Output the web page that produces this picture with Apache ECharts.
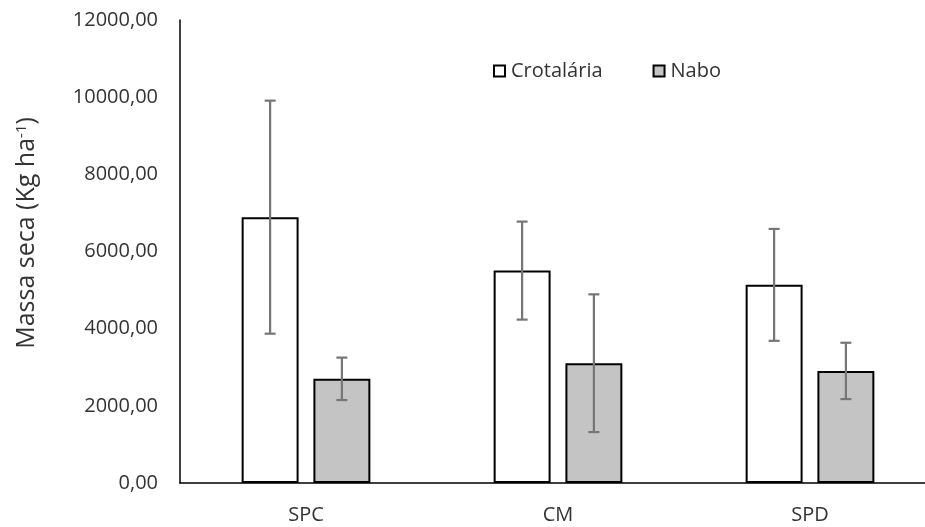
<!DOCTYPE html>
<html>
<head>
<meta charset="utf-8">
<script src="https://cdn.jsdelivr.net/npm/echarts@6/dist/echarts.min.js"></script>
<style>
  html, body { margin: 0; padding: 0; background: #fff; }
  #chart { width: 925px; height: 527px; }
</style>
</head>
<body>
<div id="chart"></div>
<script>
const categories = ['SPC', 'CM', 'SPD'];
const seriesNames = ['Crotalária', 'Nabo'];
const crotalaria = [6890, 5505, 5135];
const crotalariaErr = [3020, 1270, 1450];
const nabo = [2700, 3105, 2905];
const naboErr = [550, 1785, 730];
const yTicks = { min: 0, max: 12000, interval: 2000 };

const FONT = '"Open Sans", sans-serif';
const TEXT_COLOR = '#333333';
const BAR_W = 0.226;   // fraction of category band
const BAR_GAP = 0.26;  // fraction of bar width
const OFF = BAR_W * (1 + BAR_GAP) / 2;

function errSeries(vals, errs, sign) {
  return {
    type: 'custom',
    z: 5,
    silent: true,
    data: vals.map((v, i) => [i, v, errs[i]]),
    renderItem: function (params, api) {
      const x = api.value(0), v = api.value(1), e = api.value(2);
      const top = api.coord([x, v + e]);
      const bot = api.coord([x, v - e]);
      const band = api.size([1, 0])[0];
      const cx = top[0] + sign * band * OFF;
      const cap = 5.5;
      const st = { stroke: '#767676', lineWidth: 2.2 };
      return {
        type: 'group',
        children: [
          { type: 'line', shape: { x1: cx, y1: top[1], x2: cx, y2: bot[1] }, style: st },
          { type: 'line', shape: { x1: cx - cap, y1: top[1], x2: cx + cap, y2: top[1] }, style: st },
          { type: 'line', shape: { x1: cx - cap, y1: bot[1], x2: cx + cap, y2: bot[1] }, style: st }
        ]
      };
    }
  };
}

const chart = echarts.init(document.getElementById('chart'), null, { renderer: 'canvas' });
chart.setOption({
  animation: false,
  backgroundColor: '#ffffff',
  textStyle: { fontFamily: FONT },
  grid: { left: 180, width: 756, top: 20, bottom: 44, containLabel: false, outerBoundsMode: 'none' },
  legend: {
    data: seriesNames,
    left: 493,
    top: 61,
    padding: 0,
    itemWidth: 11,
    itemHeight: 11,
    itemGap: 50,
    icon: 'rect',
    textStyle: { fontFamily: FONT, fontSize: 20, color: TEXT_COLOR, padding: [0, 0, 0, 1] }
  },
  xAxis: {
    type: 'category',
    data: categories,
    axisLine: { lineStyle: { color: '#000', width: 1.5 } },
    axisTick: { show: false },
    axisLabel: { fontFamily: FONT, fontSize: 20, color: TEXT_COLOR, margin: 22 },
    splitLine: { show: false }
  },
  yAxis: {
    type: 'value',
    min: yTicks.min,
    max: yTicks.max,
    interval: yTicks.interval,
    axisLine: { show: true, lineStyle: { color: '#000', width: 1.5 } },
    axisTick: { show: false },
    splitLine: { show: false },
    axisLabel: {
      fontFamily: FONT, fontSize: 20, color: TEXT_COLOR, margin: 22,
      formatter: v => v.toFixed(2).replace('.', ',')
    }
  },
  graphic: [{
    type: 'text',
    x: 27,
    y: 233,
    rotation: Math.PI / 2,
    style: {
      text: '{a|Massa seca (Kg ha}{s|-1}{a|)}',
      align: 'center',
      verticalAlign: 'middle',
      rich: {
        a: { fontFamily: FONT, fontSize: 25, fill: TEXT_COLOR, color: TEXT_COLOR },
        s: { fontFamily: FONT, fontSize: 15, fill: TEXT_COLOR, color: TEXT_COLOR, verticalAlign: 'top', padding: [0, 0, 10, 0] }
      }
    }
  }],
  series: [
    {
      name: seriesNames[0],
      type: 'bar',
      data: crotalaria,
      barWidth: (BAR_W * 100) + '%',
      barGap: (BAR_GAP * 100) + '%',
      itemStyle: { color: '#ffffff', borderColor: '#000000', borderWidth: 2 }
    },
    {
      name: seriesNames[1],
      type: 'bar',
      data: nabo,
      barWidth: (BAR_W * 100) + '%',
      barGap: (BAR_GAP * 100) + '%',
      itemStyle: { color: '#c4c4c4', borderColor: '#000000', borderWidth: 2 }
    },
    errSeries(crotalaria, crotalariaErr, -1),
    errSeries(nabo, naboErr, 1)
  ]
});
</script>
</body>
</html>
